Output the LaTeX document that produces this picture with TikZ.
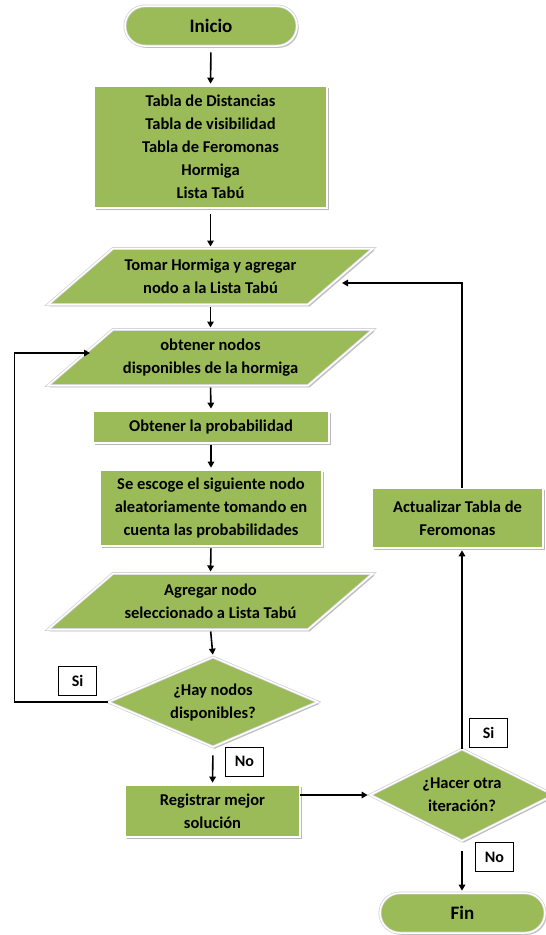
\documentclass[tikz,border=0pt]{standalone}
\usepackage{fontspec}
\setmainfont{Carlito}
\usetikzlibrary{shapes.geometric,shadows,arrows.meta,calc}
\definecolor{fillg}{HTML}{9BBB59}
\tikzset{
  body/.style={font=\fontsize{16.5}{23}\selectfont\bfseries, align=center, text=black},
  shp/.style={fill=fillg, draw=black!18, double=white, double distance=1.5pt, line width=0.7pt,
    drop shadow={shadow xshift=1.6pt, shadow yshift=-1.8pt, fill=black!28, opacity=1}},
  box/.style={shp, body, rectangle, inner sep=0pt},
  term/.style={shp, rectangle, rounded corners=20pt, font=\fontsize{19}{22}\selectfont\bfseries, inner sep=0pt, minimum height=40pt},
  dec/.style={shp, body, diamond, inner sep=0pt},
  lbl/.style={draw=black, line width=0.8pt, fill=white, font=\fontsize{16}{18}\selectfont\bfseries, minimum width=38pt, minimum height=29pt, inner sep=0pt},
  arr/.style={-{Triangle[length=6pt,width=6.5pt]}, line width=1.6pt, shorten <=2pt, shorten >=2pt},
  ln/.style={line width=1.6pt}
}
\newcommand{\flowpgram}[2]{%
  \path[shp] (#1-97.5,#2-28) -- (#1+162.5,#2-28) -- (#1+97.5,#2+28) -- (#1-162.5,#2+28) -- cycle;}
\begin{document}
\begin{tikzpicture}[x=1pt,y=-1pt]
\useasboundingbox (0,0) rectangle (546,935);
\clip (0,0) rectangle (546,935);
\fill[white] (0,0) rectangle (546,935);

% terminals and boxes
\node[term, minimum width=172pt] (inicio) at (211,26) {Inicio};
\node[box, minimum width=233pt, minimum height=122pt] (tablas) at (210.5,147)
  {Tabla de Distancias\\Tabla de visibilidad\\Tabla de Feromonas\\Hormiga\\Lista Tabú};

\flowpgram{210.5}{276.5}
\node[body] (tomar) at (210.5,276.5) {Tomar Hormiga y agregar\\nodo a la Lista Tabú};
\coordinate (tomar-n) at (210.5,248.5);
\coordinate (tomar-s) at (210.5,304.5);
\coordinate (tomar-e) at (342,283);

\flowpgram{210.5}{357.5}
\node[body] (obtener) at (210.5,357.5) {obtener nodos\\disponibles de la hormiga};
\coordinate (obtener-n) at (210.5,329.5);
\coordinate (obtener-s) at (210.5,385.5);
\coordinate (obtener-w) at (92,353);

\node[box, minimum width=236pt, minimum height=32pt] (prob) at (211,427) {Obtener la probabilidad};
\node[box, minimum width=222pt, minimum height=76pt] (escoge) at (211,508)
  {Se escoge el siguiente nodo\\aleatoriamente tomando en\\cuenta las probabilidades};

\flowpgram{210.5}{601.5}
\node[body] (agregar) at (210.5,601.5) {Agregar nodo\\seleccionado a Lista Tabú};
\coordinate (agregar-n) at (210.5,573.5);
\coordinate (agregar-s) at (210.5,629.5);

\node[dec, aspect=2.33, minimum width=210pt, minimum height=90pt] (hay) at (213,702) {¿Hay nodos\\disponibles?};
\node[box, minimum width=175pt, minimum height=52pt] (registrar) at (212.5,811) {Registrar mejor\\solución};
\node[dec, aspect=2, minimum width=184pt, minimum height=92pt] (hacer) at (462,795) {¿Hacer otra\\iteración?};
\node[box, minimum width=171pt, minimum height=60pt] (actualizar) at (457.5,518) {Actualizar Tabla de\\Feromonas};
\node[term, minimum width=165pt] (fin) at (462.5,913) {Fin};

% labels
\node[lbl] (si1) at (77.5,680.5) {Si};
\node[lbl] (no1) at (244.5,761.5) {No};
\node[lbl] (si2) at (488.5,732.5) {Si};
\node[lbl] (no2) at (494.5,857) {No};

% connectors
\draw[arr, shorten <=6pt] (inicio.south) -- (tablas.north);
\draw[arr, shorten <=6pt] (tablas.south) -- (tomar-n);
\draw[arr] (tomar-s) -- (obtener-n);
\draw[arr] (obtener-s) -- (prob.north);
\draw[arr] (prob.south) -- (escoge.north);
\draw[arr] (escoge.south) -- (agregar-n);
\draw[arr] (agregar-s) -- (hay.north);
\draw[arr, shorten <=8pt] (hay.south) -- (registrar.north);
\draw[arr, shorten <=0pt] (hay.west) -- ++(-93,0) |- (obtener-w);
\draw[arr, shorten <=0pt] (registrar.east |- hacer.west) -- (hacer.west);
\draw[arr, shorten <=0pt] (hacer.north) -- (hacer.north |- actualizar.south);
\draw[arr, shorten <=0pt, shorten >=0pt] (hacer.north |- actualizar.north) |- (tomar-e);
\draw[arr, shorten <=10pt] (hacer.south) -- (hacer.south |- fin.north);
\end{tikzpicture}
\end{document}
